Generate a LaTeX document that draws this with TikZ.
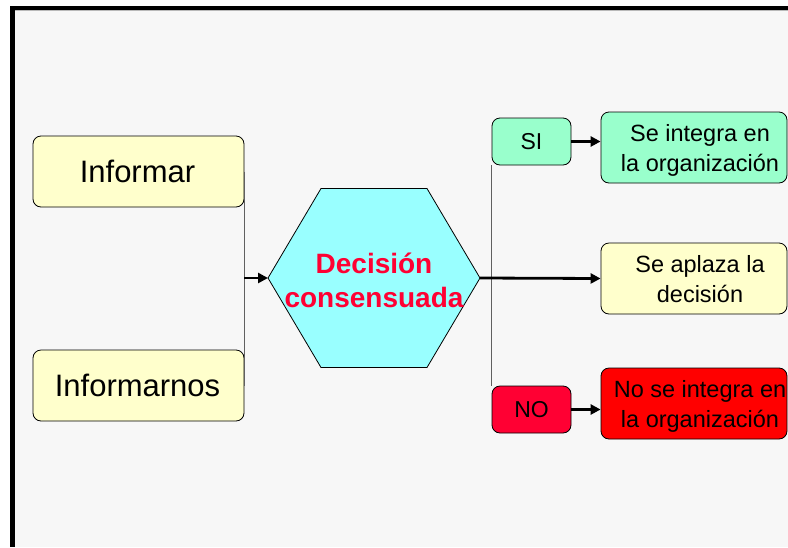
\documentclass[tikz,border=0pt]{standalone}
\usepackage{fontspec}
\setmainfont{Liberation Sans}
\usetikzlibrary{arrows.meta}
\definecolor{bg}{HTML}{F7F7F7}
\definecolor{yel}{HTML}{FFFFCC}
\definecolor{mint}{HTML}{99FFCC}
\definecolor{cyanf}{HTML}{99FFFF}
\definecolor{redno}{HTML}{FF0033}
\definecolor{redbox}{HTML}{FF0000}
\definecolor{conn}{HTML}{606060}
\tikzset{
  box/.style={draw=black, line width=0.8pt, rounded corners=8pt, inner sep=0pt},
  txt/.style={align=center, inner sep=0pt},
  bigtxt/.style={txt, font=\fontsize{31}{36}\selectfont},
  medtxt/.style={txt, font=\fontsize{23.5}{30}\selectfont},
  conline/.style={draw=conn, line width=1pt},
  arr/.style={draw=black, line width=2.8pt, -{Triangle[length=10pt,width=10pt]}},
}
\begin{document}
\begin{tikzpicture}[x=1pt,y=-1pt]
\useasboundingbox (0,0) rectangle (788,547);
\fill[white] (0,0) rectangle (788,547);
\fill[bg] (15,10) rectangle (788,547);
\draw[gray!55, line width=1pt] (15,10.8) -- (788,10.8);
\fill[black] (10,6) rectangle (788,10);
\fill[black] (10,6) rectangle (15,547);

% left boxes
\node[box, fill=yel, minimum width=211pt, minimum height=71pt] (inf) at (138.5,171.5) {};
\node[bigtxt] (infT) at (137.5,171.5) {Informar};
\node[box, fill=yel, minimum width=211pt, minimum height=71pt] (infn) at (138.5,385.5) {};
\node[bigtxt] (infnT) at (137.5,385.5) {Informarnos};

% join line left
\draw[conline] (inf.east) -- (infn.east);
\coordinate (jl) at (244,278);

% hexagon
\coordinate (hL) at (268,278);
\coordinate (hR) at (480,278);
\draw[fill=cyanf, line width=0.8pt] (hL) -- (321,188.5) -- (427,188.5) -- (hR) -- (427,367.5) -- (321,367.5) -- cycle;
\node[txt, font=\bfseries\fontsize{28}{34}\selectfont, text=redno] (dec) at (374,280) {Decisión\\consensuada};

\draw[arr] (jl) -- (hL);

% right small boxes
\node[box, fill=mint, minimum width=79pt, minimum height=47pt, font=\fontsize{23}{28}\selectfont] (si) at (531.5,141.5) {SI};
\node[box, fill=redno, minimum width=79pt, minimum height=47pt, font=\fontsize{23}{28}\selectfont] (no) at (531.5,409.5) {NO};
\draw[conline] (si.south west) -- (no.north west);

% right result boxes
\node[box, fill=mint, minimum width=186pt, minimum height=71pt] (sie) at (694,147.5) {};
\node[medtxt] (sieT) at (700,150) {Se integra en\\la organización};
\node[box, fill=yel, minimum width=186pt, minimum height=71pt] (apl) at (694,278.5) {};
\node[medtxt] (aplT) at (700,279) {Se aplaza la\\decisión};
\node[box, fill=redbox, minimum width=186pt, minimum height=71pt] (noe) at (694,403.5) {};
\node[medtxt] (noeT) at (700,406) {No se integra en\\la organización};

% arrows
\draw[arr] (hR) -- (apl.west);
\draw[arr] (si.east) -- (sie.west |- si.east);
\draw[arr] (no.east) -- (noe.west |- no.east);
\end{tikzpicture}
\end{document}
